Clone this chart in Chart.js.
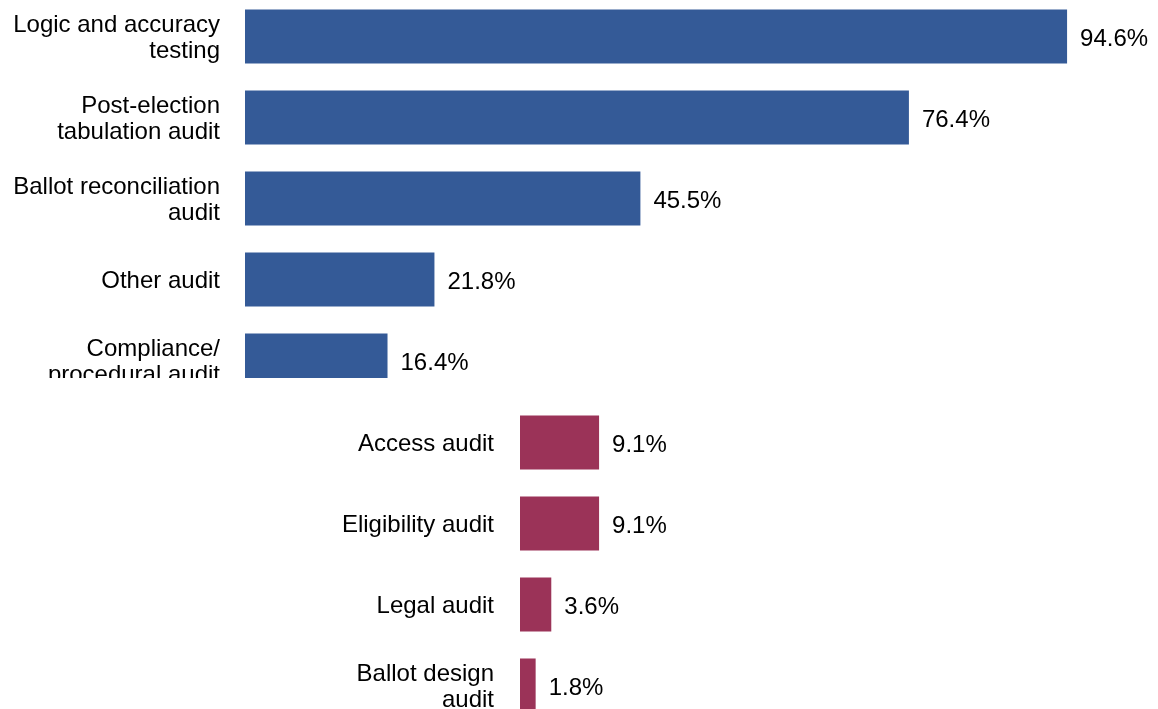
<!DOCTYPE html>
<html>
<head>
<meta charset="utf-8">
<script src="https://cdn.jsdelivr.net/npm/chart.js@4.4.0/dist/chart.umd.min.js"></script>
<style>
    html, body { margin: 0; padding: 0; background: #fff; }
    body { width: 1158px; height: 709px; position: relative; overflow: hidden; }
    .clip { position: absolute; left: 0; overflow: hidden; width: 1158px; }
    .clip canvas { position: absolute; left: 0; }
</style>
</head>
<body>
<div class="clip" style="top:0;height:378px;">
    <canvas id="topChart" width="1158" height="405" style="top:-4px"></canvas>
</div>
<div class="clip" style="top:378px;height:331px;">
    <canvas id="bottomChart" width="1400" height="324" style="top:24px"></canvas>
</div>
<script>
    // 상단 차트 데이터
    const topLabels = [
        ['Logic and accuracy', 'testing'],
        ['Post-election', 'tabulation audit'],
        ['Ballot reconciliation', 'audit'],
        'Other audit',
        ['Compliance/', 'procedural audit']
    ];
    const topValues = [94.6, 76.4, 45.5, 21.8, 16.4];

    // 하단 차트 데이터
    const bottomLabels = ['Access audit', 'Eligibility audit', 'Legal audit', ['Ballot design', 'audit']];
    const bottomValues = [9.1, 9.1, 3.6, 1.8];

    const FONT = { family: '"Liberation Sans", Arial, Helvetica, sans-serif', size: 24, lineHeight: 1.1 };

    // 막대 끝 값 표시 플러그인
    const valueLabels = {
        id: 'valueLabels',
        afterDatasetsDraw(chart) {
            const ctx = chart.ctx;
            ctx.save();
            ctx.font = `${FONT.size}px ${FONT.family}`;
            ctx.fillStyle = '#000';
            ctx.textBaseline = 'middle';
            ctx.textAlign = 'left';
            chart.data.datasets.forEach((ds, i) => {
                chart.getDatasetMeta(i).data.forEach((bar, j) => {
                    ctx.fillText(ds.data[j].toFixed(1) + '%', bar.x + 13, bar.y + 3);
                });
            });
            ctx.restore();
        }
    };

    function makeChart(id, labels, values, color, axisWidth, tickPad, rightPad) {
        return new Chart(document.getElementById(id), {
            type: 'bar',
            data: {
                labels: labels,
                datasets: [{
                    data: values,
                    backgroundColor: color,
                    borderWidth: 0,
                    barPercentage: 0.667,
                    categoryPercentage: 1
                }]
            },
            options: {
                indexAxis: 'y',
                responsive: false,
                animation: false,
                layout: { padding: { left: 0, right: rightPad, top: 0, bottom: 0 } },
                plugins: { legend: { display: false }, tooltip: { enabled: false } },
                scales: {
                    x: { display: false, min: 0, max: 100 },
                    y: {
                        grid: { display: false, drawTicks: false },
                        border: { display: false },
                        ticks: { color: '#000', font: FONT, padding: tickPad, labelOffset: 2 },
                        afterFit(scale) {
                            scale.width = axisWidth;
                            // 라벨 높이로 생기는 위아래 여백 제거
                            scale.paddingTop = 0;
                            scale.paddingBottom = 0;
                        }
                    }
                }
            },
            plugins: [valueLabels]
        });
    }

    window.onload = function() {
        makeChart('topChart', topLabels, topValues, '#345a97', 245, 25, 44);
        makeChart('bottomChart', bottomLabels, bottomValues, '#9b3358', 520, 26, 11);
    };
</script>
</body>
</html>
